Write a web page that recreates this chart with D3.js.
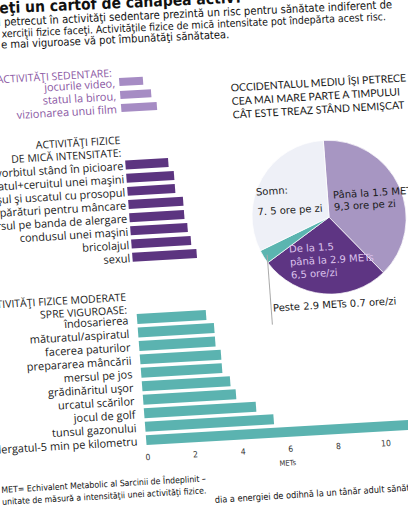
<!DOCTYPE html>
<html>
<head>
<meta charset="utf-8">
<script src="https://cdn.jsdelivr.net/npm/d3@7"></script>
<style>
  body { margin: 0; background: #fff; overflow: hidden; }
  svg { display: block; }
</style>
</head>
<body>
<div id="chart"></div>
<script>
// values (METs)
const sedentaryLabels = ["jocurile video,", "statul la birou,", "vizionarea unui film"];
const sedentaryMets = [1.0, 1.3, 1.5];

const lightLabels = [
  "vorbitul stând în picioare",
  "spălatul+ceruitul unei maşini",
  "duşul şi uscatul cu prosopul",
  "cumpărături pentru mâncare",
  "mersul pe banda de alergare",
  "condusul unei maşini",
  "bricolajul",
  "sexul"
];
const lightMets = [1.8, 2.0, 2.0, 2.3, 2.3, 2.4, 2.5, 2.7];

const moderateLabels = [
  "îndosarierea",
  "măturatul/aspiratul",
  "facerea paturilor",
  "prepararea mâncării",
  "mersul pe jos",
  "grădinăritul uşor",
  "urcatul scărilor",
  "jocul de golf",
  "tunsul gazonului",
  "alergatul-5 min pe kilometru"
];
const moderateMets = [2.9, 3.2, 3.2, 3.4, 3.4, 3.7, 3.9, 4.7, 5.4, 11.5];

const metTicks = [0, 2, 4, 6, 8, 10];

const dayLabels = ["Până la 1.5 METs", "De la 1.5 până la 2.9 METs", "Peste 2.9 METs", "Somn"];
const dayHours = [9.3, 6.5, 0.7, 7.5];

const width = 408, height = 507;
const labelFont = "'Open Sans', Lato, sans-serif";
const bodyFont = "'DejaVu Sans Condensed', 'DejaVu Sans', sans-serif";
const pieFont = "'DejaVu Sans', sans-serif";

const svg = d3.select("#chart").append("svg")
  .attr("width", width)
  .attr("height", height);

// the photographed page is slightly turned
const head = svg.append("g").attr("transform", "rotate(-2.6)");
const page = svg.append("g").attr("transform", "matrix(0.998,-0.058,0.075,0.997,0,0)");
const foot = svg.append("g").attr("transform", "rotate(-3.2,0,500)");
const footLast = svg.append("g").attr("transform", "rotate(-3.6,215,503)");

// a line whose beginning falls outside the picture: hidden part ends where the visible part starts
function cutLine(group, hidden, visible, x, y, size, weight, hiddenDrop) {
  const g = group.append("g")
    .attr("font-family", bodyFont)
    .attr("font-size", size)
    .attr("font-weight", weight || "normal")
    .attr("fill", "#111");
  g.append("text").attr("x", x - size * 0.3).attr("y", y + (hiddenDrop || 0)).attr("text-anchor", "end").text(hidden);
  g.append("text").attr("x", x).attr("y", y).text(visible);
}
cutLine(head, "Sunt", "eţi un cartof de canapea activ?", -1, 13.5, 15.5, "bold");
cutLine(head, "Timpul", "petrecut în activităţi sedentare prezintă un risc pentru sănătate indiferent de", 3, 26, 11.2);
cutLine(head, "ce e", "xerciţii fizice faceţi. Activităţile fizice de mică intensitate pot îndepărta acest risc.", 0, 37.5, 10.5);
cutLine(head, "Activităţile fizice moderate spr", "e mai viguroase vă pot îmbunătăţi sănătatea.", -1, 48.5, 11.1);

const x = d3.scaleLinear().domain([0, 12]).range([112.8, 399]);

function barSection(labels, values, y0, step, pad, color, labelEnd, labelColor) {
  const y = d3.scaleBand()
    .domain(labels)
    .range([y0, y0 + step * labels.length])
    .paddingInner(pad)
    .paddingOuter(pad / 2);
  const g = page.append("g");
  g.selectAll("rect")
    .data(values)
    .join("rect")
    .attr("x", x(0))
    .attr("y", (d, i) => y(labels[i]))
    .attr("width", (d) => x(d) - x(0))
    .attr("height", y.bandwidth())
    .attr("fill", color);
  g.selectAll("text")
    .data(labels)
    .join("text")
    .attr("x", labelEnd)
    .attr("y", (d) => y(d) + y.bandwidth() / 2 + 1)
    .attr("dy", "0.35em")
    .attr("text-anchor", "end")
    .attr("font-family", labelFont)
    .attr("font-size", 11)
    .attr("fill", labelColor)
    .text((d) => d);
  return y;
}

function sectionTitle(lines, xEnd, yFirst, color) {
  page.append("g")
    .selectAll("text")
    .data(lines)
    .join("text")
    .attr("x", xEnd)
    .attr("y", (d, i) => yFirst + i * 12.8)
    .attr("dy", "0.35em")
    .attr("text-anchor", "end")
    .attr("font-family", labelFont)
    .attr("font-size", 10.5)
    .attr("fill", color)
    .text((d) => d);
}

barSection(sedentaryLabels, sedentaryMets, 82.4, 13, 0.38, "#a68cc4", 108.5, "#8a57a3");
sectionTitle(["ACTIVITĂŢI SEDENTARE:"], 106, 79.4, "#8a57a3");

barSection(lightLabels, lightMets, 165.5, 13.2, 0.32, "#5c3480", 110.5, "#1a1a1a");
sectionTitle(["ACTIVITĂŢI FIZICE", "DE MICĂ INTENSITATE:"], 109.5, 147, "#1a1a1a");

barSection(moderateLabels, moderateMets, 319.75, 13.5, 0.26, "#5bb3b0", 104, "#1a1a1a");
sectionTitle(["ACTIVITĂŢI FIZICE MODERATE", "SPRE VIGUROASE:"], 103.5, 304, "#1a1a1a");

// axis under the bars
const axis = page.append("g")
  .attr("transform", "translate(0,459)")
  .call(d3.axisBottom(x).tickValues(metTicks).tickSize(0).tickPadding(3));
axis.select(".domain").remove();
axis.selectAll("text")
  .attr("font-family", bodyFont)
  .attr("font-size", 8.5)
  .attr("fill", "#333");

page.append("text")
  .attr("x", x(5.85))
  .attr("y", 479)
  .attr("dy", "0.35em")
  .attr("text-anchor", "middle")
  .attr("font-family", bodyFont)
  .attr("font-size", 7.5)
  .attr("fill", "#333")
  .text("METs");

// footnote
foot.append("g")
  .attr("font-family", bodyFont)
  .attr("font-size", 8.7)
  .attr("fill", "#111")
  .selectAll("text")
  .data(["MET= Echivalent Metabolic al Sarcinii de Îndeplinit –", "unitate de măsură a intensităţii unei activităţi fizice."])
  .join("text")
  .attr("x", 2)
  .attr("y", (d, i) => 493 + i * 12)
  .text((d) => d);
// the start of the last line curls below the bottom edge in the photo
cutLine(footLast, "1 MET este egal cu rata me", "dia a energiei de odihnă la un tânăr adult sănătos.", 215, 503, 9.1, "normal", 14);

// pie
const pieColors = ["#a796c2", "#5e3583", "#5bb5b0", "#eef0f7"];
const radius = 77;
const arcs = d3.pie().sort(null).value((d) => d)(dayHours);
const arc = d3.arc().innerRadius(0).outerRadius(radius);
const pg = page.append("g").attr("transform", "translate(312,236)");
pg.selectAll("path")
  .data(arcs)
  .join("path")
  .attr("d", arc)
  .attr("fill", (d, i) => pieColors[i])
  .attr("stroke", "#fff")
  .attr("stroke-width", 0.7);

const teal = arcs[2];
const mid = (teal.startAngle + teal.endAngle) / 2;
pg.append("line")
  .attr("x1", Math.sin(mid) * (radius - 4))
  .attr("y1", -Math.cos(mid) * (radius - 4))
  .attr("x2", Math.sin(mid) * (radius - 4))
  .attr("y2", 104)
  .attr("stroke", "#aaa")
  .attr("stroke-width", 1);

const pieNotes = [
  { lines: ["Până la 1.5 METs", "9,3 ore pe zi"], x: 5.6, y: -22, gap: 12, color: "#1a1a1a" },
  { lines: ["Somn:", "7. 5 ore pe zi"], x: -71, y: -29.5, gap: 20, color: "#1a1a1a" },
  { lines: ["De la 1.5", "până la 2.9 METs", "6,5 ore/zi"], x: -42.4, y: 29.5, gap: 13, color: "#dcc3ec" },
  { lines: ["Peste 2.9 METs 0.7 ore/zi"], x: -62.8, y: 87.4, gap: 12, color: "#1a1a1a" }
];
pieNotes.forEach((n) => {
  pg.append("g")
    .selectAll("text")
    .data(n.lines)
    .join("text")
    .attr("x", n.x)
    .attr("y", (d, i) => n.y + i * n.gap)
    .attr("dy", "0.35em")
    .attr("font-family", pieFont)
    .attr("font-size", 10)
    .attr("fill", n.color)
    .text((d) => d);
});

page.append("g")
  .selectAll("text")
  .data(["OCCIDENTALUL MEDIU ÎŞI PETRECE", "CEA MAI MARE PARTE A TIMPULUI", "CÂT ESTE TREAZ STÂND NEMIŞCAT"])
  .join("text")
  .attr("x", 223.5)
  .attr("y", (d, i) => 101.2 + i * 13.5)
  .attr("dy", "0.35em")
  .attr("font-family", "Lato, sans-serif")
  .attr("font-size", 10.5)
  .attr("fill", "#1a1a1a")
  .text((d) => d);
</script>
</body>
</html>
